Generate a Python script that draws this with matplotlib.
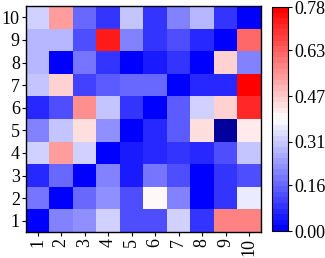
import numpy as np
import matplotlib
matplotlib.use("Agg")
import matplotlib.pyplot as plt

plt.rcParams['font.family'] = ['Liberation Serif', 'DejaVu Serif']

labels = [str(i) for i in range(1, 11)]

# rows from y=1 (bottom) to y=10 (top), columns x=1..10
row1 = [0.00, 0.20, 0.23, 0.33, 0.12, 0.12, 0.32, 0.08, 0.57, 0.58]
row2 = [0.18, 0.00, 0.16, 0.23, 0.12, 0.40, 0.21, 0.00, 0.08, 0.37]
row3 = [0.06, 0.16, 0.00, 0.21, 0.04, 0.18, 0.12, 0.00, 0.08, 0.12]
row4 = [0.32, 0.53, 0.32, 0.00, 0.04, 0.06, 0.08, 0.06, 0.12, 0.31]
row5 = [0.21, 0.31, 0.43, 0.23, 0.00, 0.06, 0.14, 0.43, -0.05, 0.41]
row6 = [0.06, 0.12, 0.55, 0.30, 0.08, 0.00, 0.14, 0.32, 0.45, 0.72]
row7 = [0.31, 0.45, 0.10, 0.14, 0.16, 0.16, 0.00, 0.06, 0.06, 0.78]
row8 = [0.29, 0.00, 0.18, 0.08, 0.01, 0.04, 0.08, 0.01, 0.45, 0.21]
row9 = [0.29, 0.29, 0.12, 0.74, 0.20, 0.08, 0.12, 0.06, 0.00, 0.62]
row10 = [0.33, 0.53, 0.16, 0.08, 0.30, 0.08, 0.20, 0.29, 0.08, 0.00]

data = np.array([row1, row2, row3, row4, row5, row6, row7, row8, row9, row10])

vmin, vmax = 0.0, 0.78
cbar_ticks = [0.00, 0.16, 0.31, 0.47, 0.63, 0.78]

cmap = plt.get_cmap('bwr', 40).copy()
cmap.set_under('#00009c')

fig = plt.figure(figsize=(3.25, 2.58), dpi=100)
ax = fig.add_axes([26 / 325, 1 - 232 / 258, 235 / 325, 226 / 258])
cax = fig.add_axes([272 / 325, 1 - 231 / 258, 16 / 325, 224 / 258])

im = ax.imshow(data, cmap=cmap, vmin=vmin, vmax=vmax, origin='lower',
               aspect='auto', interpolation='nearest')
ax.set_xticks(range(10))
ax.set_xticklabels(labels, rotation=90, fontsize=13)
ax.set_yticks(range(10))
ax.set_yticklabels(labels, fontsize=13)
ax.tick_params(length=3, width=0.8, pad=1.5)
for sp in ax.spines.values():
    sp.set_linewidth(1.0)

cb = fig.colorbar(im, cax=cax, ticks=cbar_ticks)
cb.ax.set_yticklabels([f"{t:.2f}" for t in cbar_ticks], fontsize=13)
cb.ax.tick_params(length=3, width=0.8, pad=1.5)
cb.outline.set_linewidth(0.8)

fig.savefig("out.png", dpi=100)
